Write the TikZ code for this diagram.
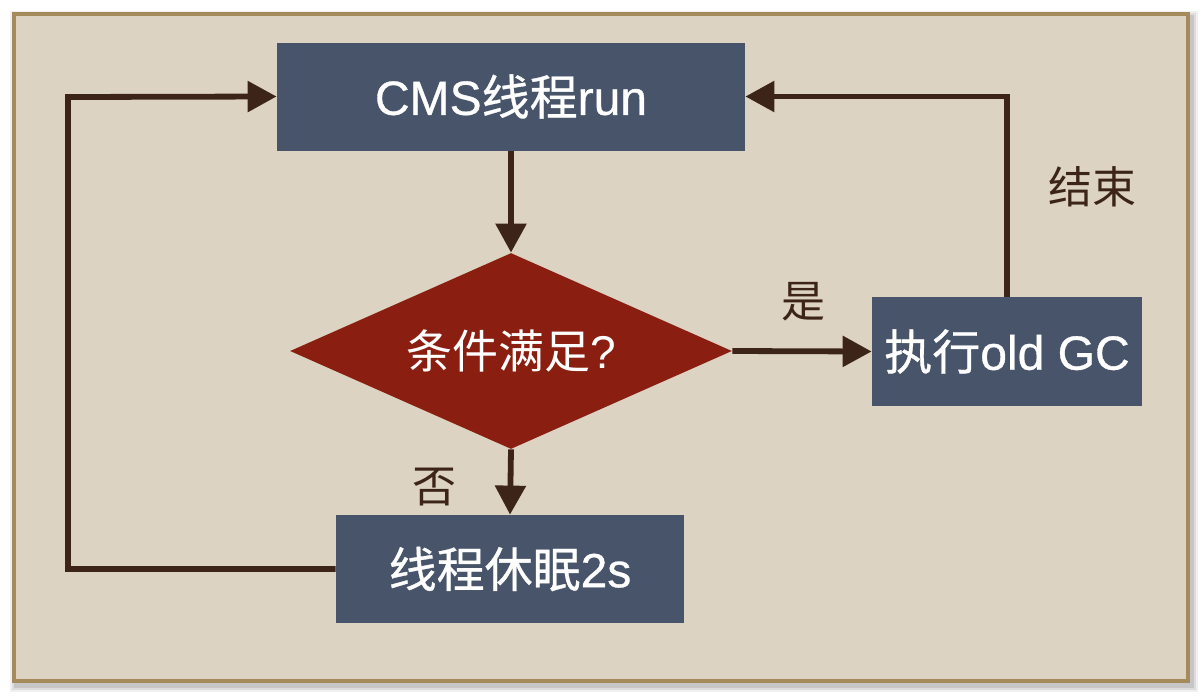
\documentclass[tikz,border=0pt]{standalone}
\usepackage{fontspec}
\setmainfont{Liberation Sans}
\newfontfamily\cjk{Noto Sans CJK SC}
\newfontfamily\latb{Liberation Sans}[FakeBold=0.7]
\newfontfamily\cjkb{Noto Sans CJK SC}[FakeBold=0.7]
\usetikzlibrary{arrows.meta,shapes.geometric}
\definecolor{paper}{RGB}{221,211,194}
\definecolor{paperedge}{RGB}{165,138,92}
\definecolor{boxblue}{RGB}{71,84,105}
\definecolor{dred}{RGB}{138,31,17}
\definecolor{lnbrown}{RGB}{61,36,25}
\begin{document}
\begin{tikzpicture}[x=0.5pt,y=-0.5pt,
  procbox/.style={rectangle, fill=boxblue, text=white, inner sep=0pt, font=\latb\fontsize{24}{28}\selectfont},
  decbox/.style={diamond, shape aspect=2.25, fill=dred, text=white, inner sep=0pt, font=\fontsize{23}{27}\selectfont},
  conn/.style={draw=lnbrown, line width=2.9pt, -{Triangle[length=14.5pt,width=15pt]}},
  lbl/.style={text=lnbrown, font=\cjk\fontsize{22}{26}\selectfont, inner sep=0pt}]
\useasboundingbox (0,0) rectangle (1202,696);
\fill[white] (0,0) rectangle (1202,696);
% paper shadow
\foreach \o/\a in {7/0.06,5/0.08,3/0.10}{
  \fill[black,opacity=\a] (14-\o+3,14-\o+4) rectangle (1188+\o+3,681+\o+4);
}
\fill[paper, draw=paperedge, line width=1.6pt] (14,14) rectangle (1188,681);
% nodes
\node[procbox, minimum width=234pt, minimum height=54pt] (cms) at (511,96.5) {CMS{\cjkb 线程}run};
\node[decbox, minimum width=221pt, minimum height=98pt] (dia) at (511,351) {{\cjk 条件满足}?};
\node[procbox, minimum width=135pt, minimum height=54.5pt] (gc) at (1007,351.5) {{\cjkb 执行}old GC};
\node[procbox, minimum width=174pt, minimum height=54pt] (sleep) at (510,569) {{\cjkb 线程休眠}2s};
\coordinate (lc) at (68,97);
% connectors
\draw[conn] (cms.south) -- (dia.north);
\draw[conn] (dia.east) -- (gc.west);
\draw[conn] (dia.south) -- (sleep.north);
\draw[conn] (sleep.west) -| (lc) -- (cms.west);
\draw[conn] (gc.north) |- (cms.east);
% labels
\node[lbl] (yes) at (803,302) {是};
\node[lbl] (no) at (434,487) {否};
\node[lbl] (end) at (1092,187) {结束};
\end{tikzpicture}
\end{document}
